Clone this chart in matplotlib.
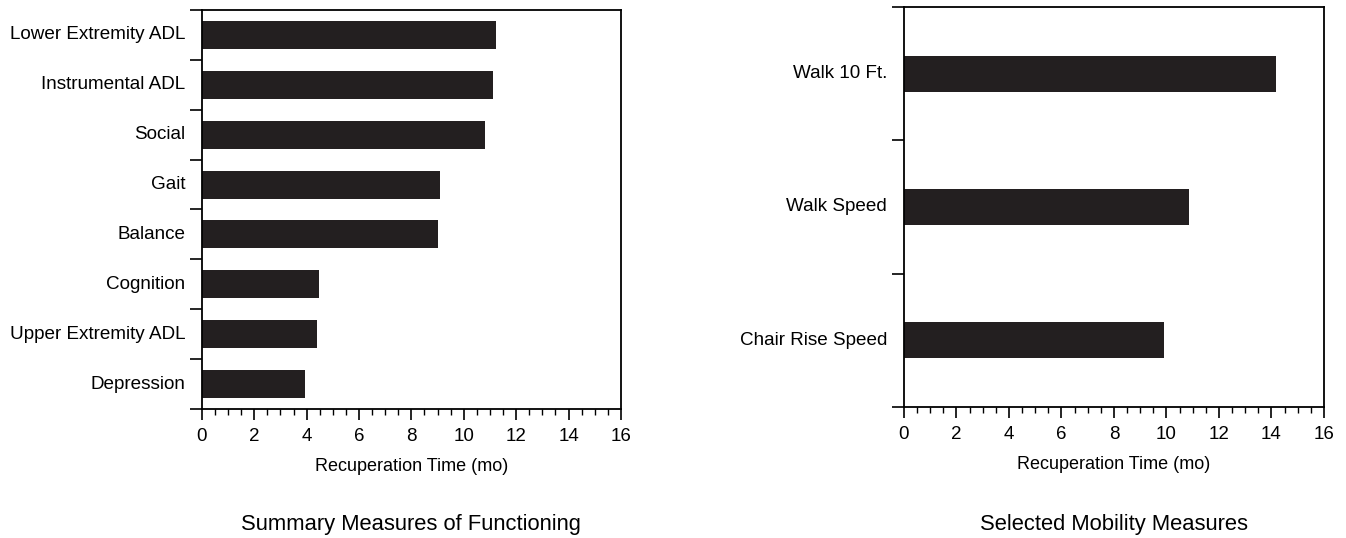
import numpy as np
import matplotlib.pyplot as plt
from matplotlib.ticker import MultipleLocator

plt.rcParams['font.family'] = ['Liberation Sans', 'DejaVu Sans']

# left panel: summary measures
summary_labels = ["Lower Extremity ADL", "Instrumental ADL", "Social", "Gait",
                  "Balance", "Cognition", "Upper Extremity ADL", "Depression"]
summary_values = [11.23, 11.13, 10.81, 9.10, 9.03, 4.46, 4.39, 3.92]

# right panel: mobility measures
mobility_labels = ["Walk 10 Ft.", "Walk Speed", "Chair Rise Speed"]
mobility_values = [14.17, 10.86, 9.90]

xticks = [0, 2, 4, 6, 8, 10, 12, 14, 16]
bar_color = "#231f20"

fig = plt.figure(figsize=(13.46, 5.38), dpi=100)
ax1 = fig.add_axes([0.150, 0.2398, 0.3113, 0.7416])
ax2 = fig.add_axes([0.6716, 0.2435, 0.3120, 0.7435])


def draw(ax, labels, values, height, title):
    n = len(labels)
    y = np.arange(n)[::-1]
    ax.barh(y, values, height=height, color=bar_color)
    ax.set_xlim(0, 16)
    ax.set_ylim(-0.5, n - 0.5)
    ax.set_xticks(xticks)
    ax.xaxis.set_minor_locator(MultipleLocator(0.5))
    ax.set_yticks(np.arange(n + 1) - 0.5)
    ax.set_yticklabels([])
    for yi, lab in zip(y, labels):
        ax.text(-0.04, yi, lab, transform=ax.get_yaxis_transform(),
                ha="right", va="center", fontsize=13.6)
    ax.tick_params(axis="x", which="major", direction="out", length=8,
                   width=1.2, labelsize=13.5, pad=6)
    ax.tick_params(axis="x", which="minor", direction="out", length=4, width=1)
    ax.tick_params(axis="y", direction="out", length=9, width=1.2)
    for s in ax.spines.values():
        s.set_linewidth(1.3)
    ax.set_xlabel("Recuperation Time (mo)", fontsize=13, labelpad=9)
    bb = ax.get_position()
    fig.text((bb.x0 + bb.x1) / 2, 0.026, title, ha="center", va="center",
             fontsize=15.8)


draw(ax1, summary_labels, summary_values, 0.56, "Summary Measures of Functioning")
draw(ax2, mobility_labels, mobility_values, 0.27, "Selected Mobility Measures")

fig.savefig("out.png", dpi=100)
